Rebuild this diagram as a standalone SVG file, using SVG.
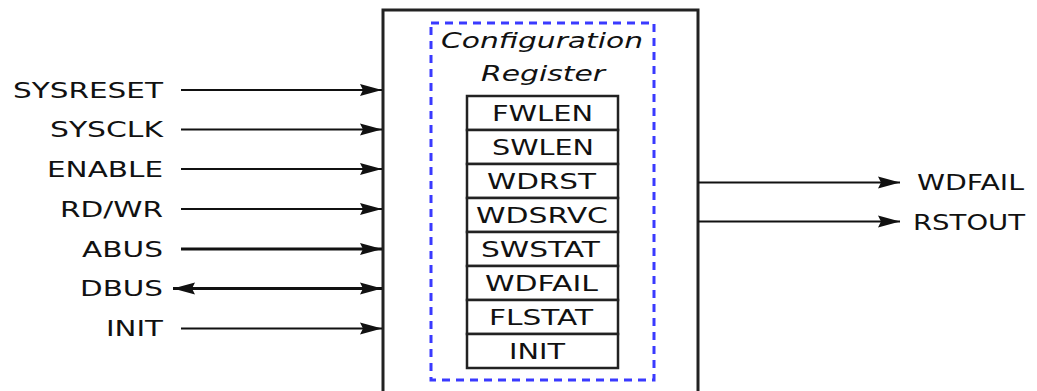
<svg xmlns="http://www.w3.org/2000/svg" width="1037" height="391" viewBox="0 0 1037 391">
  <style>
    .lbl { font-family: "DejaVu Sans", "Liberation Sans", sans-serif; font-size: 21px; fill: #111; }
    .title { font-family: "DejaVu Sans", sans-serif; font-style: italic; font-size: 21px; fill: #111; }
    .wire { stroke: #111; stroke-width: 2; fill: none; }
    .bus { stroke: #111; stroke-width: 3.2; fill: none; }
    .block { fill: #fff; stroke: #222; stroke-width: 3; }
    .cfg { fill: none; stroke: #3a3aff; stroke-width: 3; stroke-dasharray: 8 6; }
    .cell { fill: #fff; stroke: #222; stroke-width: 2.5; }
  </style>
  <defs>
    <marker id="head" markerUnits="userSpaceOnUse" markerWidth="24" markerHeight="14" viewBox="-23 -7 24 14" refX="0" refY="0" orient="auto-start-reverse">
      <path d="M0,0 L-22,-6 L-19,0 L-22,6 Z" fill="#111"/>
    </marker>
  </defs>

  <rect width="1037" height="391" fill="#fff"/>

  <!-- watchdog block -->
  <g id="block">
    <rect class="block" x="383" y="10" width="315" height="400"/>
    <rect class="cfg" x="431" y="23" width="223" height="357"/>
    <text class="title" x="542" y="48" text-anchor="middle" textLength="202" lengthAdjust="spacingAndGlyphs">Configuration</text>
    <text class="title" x="543" y="81" text-anchor="middle" textLength="124" lengthAdjust="spacingAndGlyphs">Register</text>
  </g>

  <!-- register fields -->
  <g id="reg-fwlen"><rect class="cell" x="467" y="96" width="151" height="34"/><text class="lbl" x="542.5" y="121" text-anchor="middle" textLength="101" lengthAdjust="spacingAndGlyphs">FWLEN</text></g>
  <g id="reg-swlen"><rect class="cell" x="467" y="130" width="151" height="34"/><text class="lbl" x="543" y="155" text-anchor="middle" textLength="102" lengthAdjust="spacingAndGlyphs">SWLEN</text></g>
  <g id="reg-wdrst"><rect class="cell" x="467" y="164" width="151" height="34"/><text class="lbl" x="541.5" y="189" text-anchor="middle" textLength="109" lengthAdjust="spacingAndGlyphs">WDRST</text></g>
  <g id="reg-wdsrvc"><rect class="cell" x="467" y="198" width="151" height="34"/><text class="lbl" x="542" y="223" text-anchor="middle" textLength="132" lengthAdjust="spacingAndGlyphs">WDSRVC</text></g>
  <g id="reg-swstat"><rect class="cell" x="467" y="232" width="151" height="34"/><text class="lbl" x="540.5" y="257" text-anchor="middle" textLength="119" lengthAdjust="spacingAndGlyphs">SWSTAT</text></g>
  <g id="reg-wdfail"><rect class="cell" x="467" y="266" width="151" height="34"/><text class="lbl" x="541.5" y="291" text-anchor="middle" textLength="113" lengthAdjust="spacingAndGlyphs">WDFAIL</text></g>
  <g id="reg-flstat"><rect class="cell" x="467" y="300" width="151" height="34"/><text class="lbl" x="541" y="325" text-anchor="middle" textLength="104" lengthAdjust="spacingAndGlyphs">FLSTAT</text></g>
  <g id="reg-init"><rect class="cell" x="467" y="334" width="151" height="34"/><text class="lbl" x="537" y="359" text-anchor="middle" textLength="56" lengthAdjust="spacingAndGlyphs">INIT</text></g>

  <!-- input signal labels -->
  <g id="in-sysreset"><text class="lbl" x="163" y="97.5" text-anchor="end" textLength="150" lengthAdjust="spacingAndGlyphs">SYSRESET</text></g>
  <g id="in-sysclk"><text class="lbl" x="163" y="137" text-anchor="end" textLength="113" lengthAdjust="spacingAndGlyphs">SYSCLK</text></g>
  <g id="in-enable"><text class="lbl" x="163" y="176.5" text-anchor="end" textLength="116" lengthAdjust="spacingAndGlyphs">ENABLE</text></g>
  <g id="in-rdwr"><text class="lbl" x="163" y="216.5" text-anchor="end" textLength="103" lengthAdjust="spacingAndGlyphs">RD/WR</text></g>
  <g id="in-abus"><text class="lbl" x="163" y="256.5" text-anchor="end" textLength="81" lengthAdjust="spacingAndGlyphs">ABUS</text></g>
  <g id="in-dbus"><text class="lbl" x="163" y="296" text-anchor="end" textLength="83" lengthAdjust="spacingAndGlyphs">DBUS</text></g>
  <g id="in-init"><text class="lbl" x="163" y="336" text-anchor="end" textLength="57" lengthAdjust="spacingAndGlyphs">INIT</text></g>

  <!-- output signal labels -->
  <g id="out-wdfail"><text class="lbl" x="917" y="190" textLength="107" lengthAdjust="spacingAndGlyphs">WDFAIL</text></g>
  <g id="out-rstout"><text class="lbl" x="913" y="229.5" textLength="112" lengthAdjust="spacingAndGlyphs">RSTOUT</text></g>

  <!-- connectors -->
  <g id="connectors">
    <line class="wire" x1="181" y1="90" x2="382" y2="90" marker-end="url(#head)"/>
    <line class="wire" x1="181" y1="129.5" x2="382" y2="129.5" marker-end="url(#head)"/>
    <line class="wire" x1="181" y1="169" x2="382" y2="169" marker-end="url(#head)"/>
    <line class="wire" x1="181" y1="209" x2="382" y2="209" marker-end="url(#head)"/>
    <line class="bus" x1="181" y1="249" x2="382" y2="249" marker-end="url(#head)"/>
    <line class="bus" x1="173" y1="288.5" x2="382" y2="288.5" marker-start="url(#head)" marker-end="url(#head)"/>
    <line class="wire" x1="181" y1="328.5" x2="382" y2="328.5" marker-end="url(#head)"/>
    <line class="wire" x1="698" y1="182.5" x2="900" y2="182.5" marker-end="url(#head)"/>
    <line class="wire" x1="698" y1="221.5" x2="900" y2="221.5" marker-end="url(#head)"/>
  </g>
</svg>
